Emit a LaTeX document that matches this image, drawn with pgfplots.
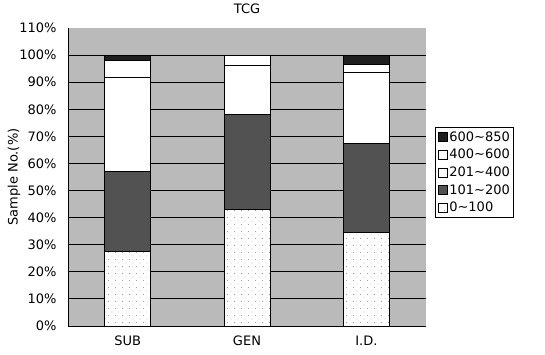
\documentclass[border=0pt]{standalone}
\usepackage{fontspec}
\setmainfont{DejaVu Sans}
\usepackage{pgfplots}
\pgfplotsset{compat=1.18}
\usetikzlibrary{patterns.meta}
\tikzdeclarepattern{
  name=sparsedots,
  type=uncolored,
  bottom left={(-.5pt,-.5pt)},
  top right={(7.5pt,7.5pt)},
  tile size={(7pt,7pt)},
  code={\fill (0pt,0pt) circle (0.45pt); \fill (3.5pt,3.5pt) circle (0.45pt);}
}
\newcommand\f{\fontsize{13}{15}\selectfont}
\begin{document}
\begin{tikzpicture}
\path[use as bounding box] (0,0) rectangle (545pt,354pt);
\begin{axis}[
  at={(68pt,28pt)}, anchor=south west,
  scale only axis, width=358pt, height=298pt,
  xmin=-0.5, xmax=2.5, ymin=0, ymax=110,
  ybar stacked, bar width=46pt,
  xtick={0,1,2}, xticklabels={SUB,GEN,I.D.},
  ytick={0,10,...,110},
  yticklabel={\pgfmathprintnumber{\tick}\%},
  /pgf/number format/assume math mode=true,
  tick label style={font=\f},
  xticklabel style={yshift=-6pt},
  yticklabel style={xshift=-8pt},
  major tick length=0pt,
  axis x line*=bottom, axis y line*=left,
  axis line style={black, line width=1pt, -},
  axis background/.style={fill=black!27},
  extra y ticks={10,20,...,100}, extra y tick labels={},
  extra y tick style={grid=major, major grid style={black, line width=1.1pt}},
  title={TCG}, title style={font=\f, at={(0.5,1)}, anchor=center, yshift=13pt},
  ylabel={Sample No.(\%)},
  every axis y label/.style={at={(axis description cs:0,0.5)}, xshift=-54pt, rotate=90, anchor=center, font=\f},
  legend style={at={(1.026,0.667)}, anchor=north west, draw=black, line width=0.8pt, font=\f, row sep=2.5pt, inner xsep=2pt, inner ysep=2pt},
  legend cell align=left,
  reverse legend,
  legend image code/.code={\draw[#1, line width=0.6pt] (0pt,-4.5pt) rectangle (9pt,4.5pt);},
]
\addplot[fill=white, draw=black, line width=1pt, postaction={pattern=sparsedots, pattern color=black!55}] coordinates {(0,27.5) (1,42.9) (2,34.5)};
\addplot[fill=black!68, draw=black, line width=1pt] coordinates {(0,29.5) (1,35.3) (2,32.9)};
\addplot[fill=white, draw=black, line width=1pt] coordinates {(0,34.7) (1,17.8) (2,26.0)};
\addplot[fill=white, draw=black, line width=1pt] coordinates {(0,6.2) (1,4.0) (2,3.2)};
\addplot[fill=black!88, draw=black, line width=1pt] coordinates {(0,2.1) (1,0) (2,3.4)};
\legend{0\textasciitilde 100,101\textasciitilde 200,201\textasciitilde 400,400\textasciitilde 600,600\textasciitilde 850}
\end{axis}
\end{tikzpicture}
\end{document}
